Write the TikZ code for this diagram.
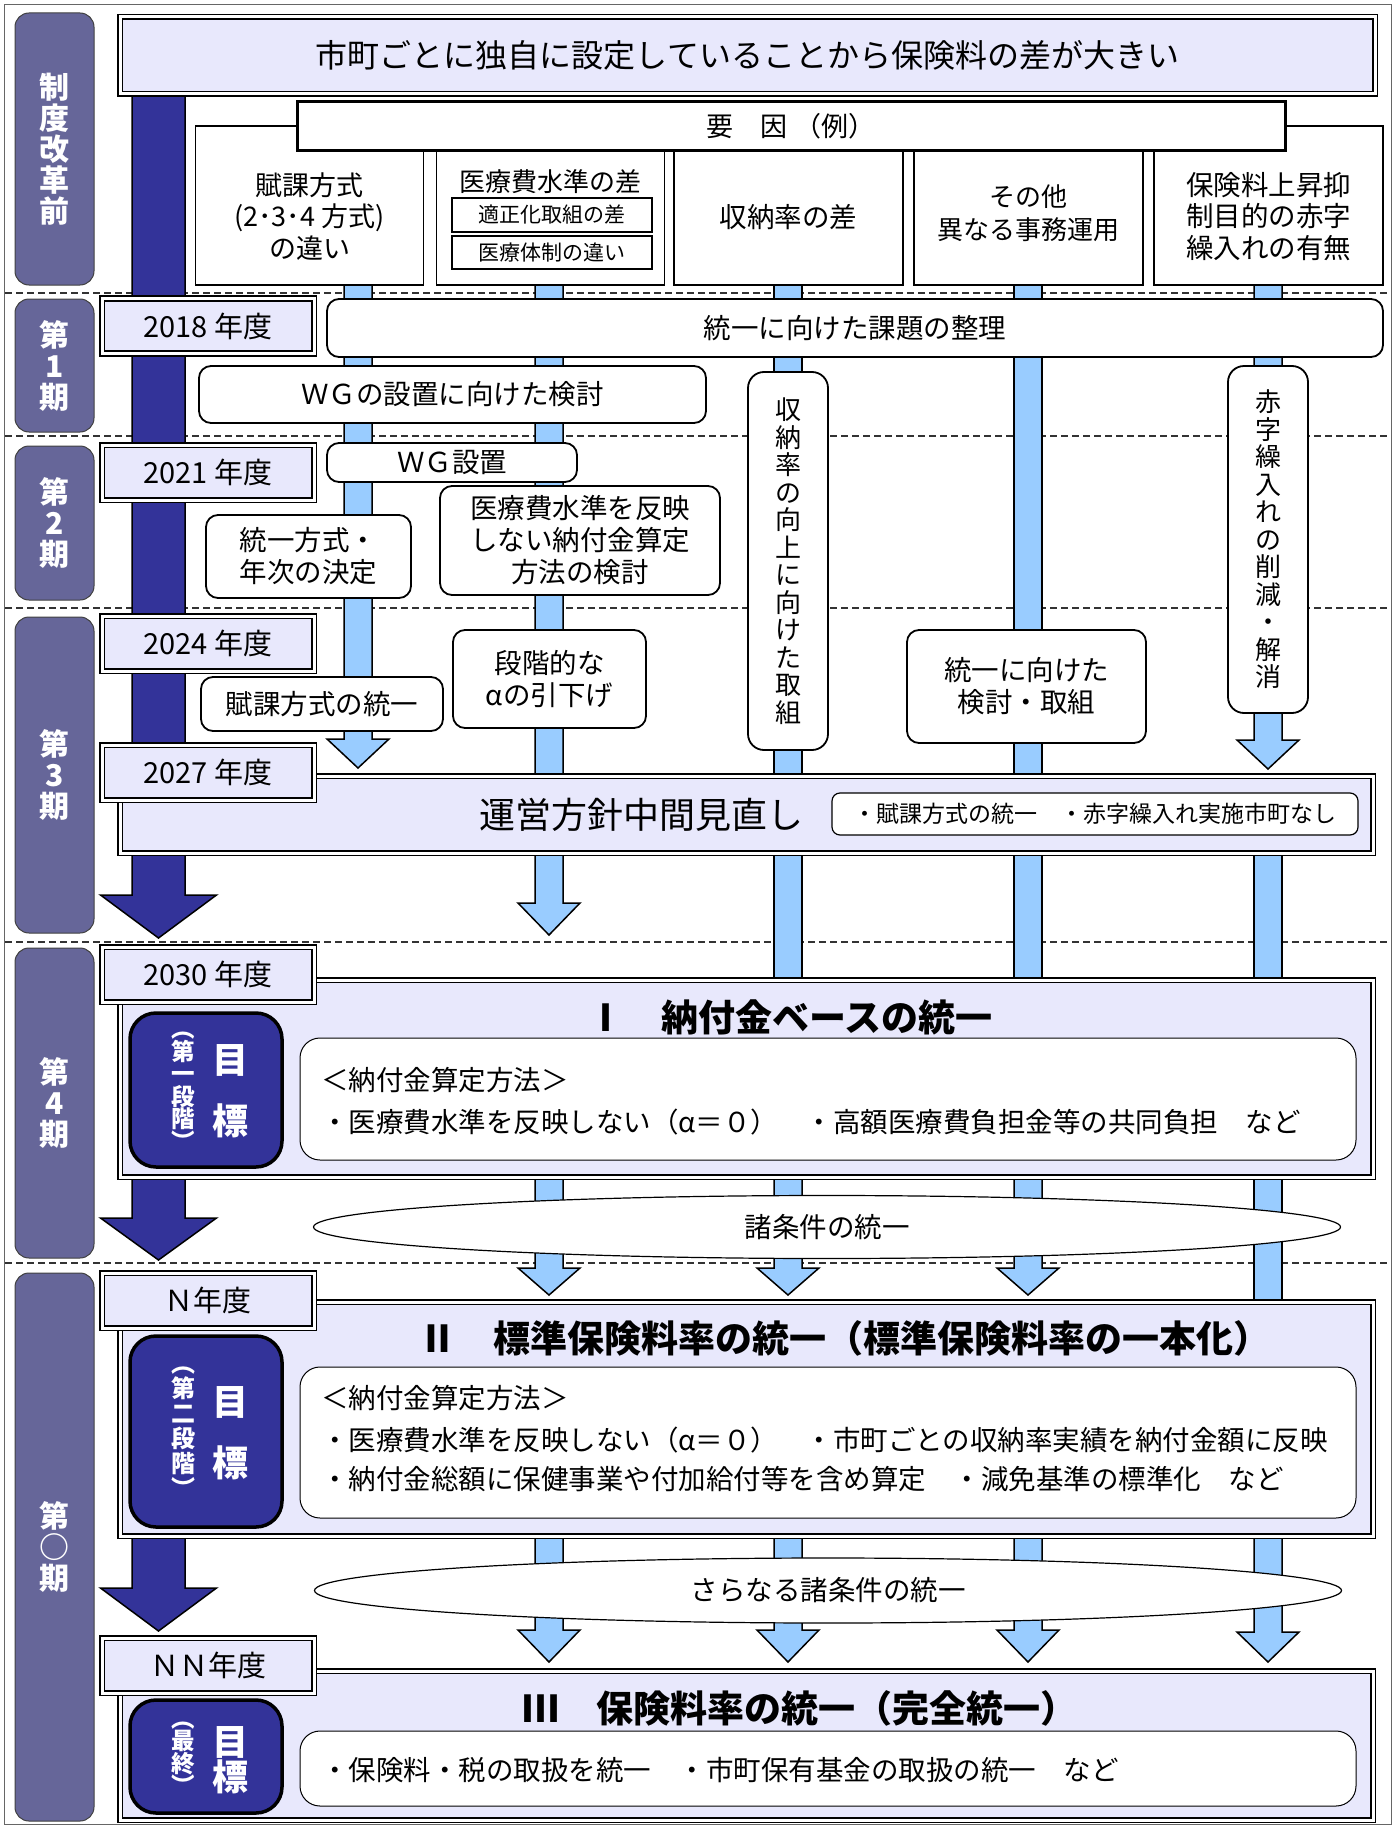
\documentclass[tikz,border=0pt]{standalone}
\usepackage{fontspec}
\setmainfont{Noto Sans CJK JP}
\usetikzlibrary{shapes.geometric}
\definecolor{lav}{RGB}{232,232,252}
\definecolor{navy}{RGB}{51,51,153}
\definecolor{phasec}{RGB}{102,102,153}
\definecolor{lblue}{RGB}{153,204,255}
\newcommand\fsz[2]{\fontsize{#1}{#2}\selectfont}
% style, x, half width, head half width, y start, y head, y tip
\newcommand\colarrow[7]{%
  \draw[#1] ({#2-#3},#5) -- ({#2-#3},#6) -- ({#2-#4},#6) -- (#2,#7) -- ({#2+#4},#6) -- ({#2+#3},#6) -- ({#2+#3},#5) -- cycle;}
\tikzset{
  bs0/.style={inner sep=0pt, outer sep=0pt},
  dbox/.style={bs0, draw, double=white, double distance=3pt, line width=1.6pt, fill=lav},
  ybox/.style={dbox, minimum width=212pt, minimum height=55pt, font=\fsz{29}{32}},
  fbox/.style={bs0, draw, line width=1.2pt, fill=white, minimum height=159pt, minimum width=228pt},
  sbox/.style={bs0, draw, line width=1.5pt, fill=white, minimum width=200pt, font=\fsz{21}{24}},
  rbox/.style={bs0, draw, line width=1.8pt, fill=white, rounded corners=12pt, align=center, font=\fsz{27.5}{32}},
  phbox/.style={bs0, draw=black!75, line width=1pt, fill=phasec, rounded corners=14pt, minimum width=79pt, text=white, font=\bfseries\fsz{30}{31}, align=center},
  goalm/.style={bs0, draw, line width=3.5pt, fill=navy, rounded corners=26pt, minimum width=152pt},
  cbox/.style={bs0, draw, line width=1pt, fill=white, rounded corners=20pt, minimum width=1056pt},
  lcol/.style={draw, line width=1.5pt, fill=lblue},
  dcol/.style={draw, line width=1.5pt, fill=navy},
  dashline/.style={dash pattern=on 7pt off 4pt, line width=1.1pt, black!80},
  txt/.style={bs0, font=\fsz{27.5}{32}, align=center},
  ctxt/.style={bs0, font=\fsz{27.5}{32}, anchor=west},
  gtitle/.style={bs0, font=\bfseries\fsz{37}{40}},
  mk/.style={bs0, text=white, font=\bfseries\fsz{36}{36}},
  mp/.style={bs0, text=white, align=center, font=\bfseries\fsz{23.5}{22.5}},
  ellbox/.style={bs0, draw, line width=1.2pt, fill=white, ellipse, minimum width=1027pt, font=\fsz{27.5}{30}},
  subbox/.style={bs0, draw, line width=1.2pt, fill=white, rounded corners=8pt, font=\fsz{23}{26}}
}
\begin{document}
\begin{tikzpicture}[x=1pt,y=-1pt]
\useasboundingbox (0,0) rectangle (1394,1827);
\draw[black!60, line width=1pt] (4,5) rectangle (1391,1824);
\foreach \yy in {293,436,608,942,1263} \draw[dashline] (5,\yy) -- (1390,\yy);

% dark main column
\colarrow{dcol}{158.5}{26.5}{58}{90}{895}{938}
\colarrow{dcol}{158.5}{26.5}{58}{1170}{1218}{1260}
\colarrow{dcol}{158.5}{26.5}{58}{1530}{1588}{1631}
% light columns
\colarrow{lcol}{358}{14}{31}{280}{739}{768}
\colarrow{lcol}{549}{14}{31}{280}{903}{935}
\colarrow{lcol}{549}{14}{31}{1170}{1268}{1295}
\colarrow{lcol}{549}{14}{31}{1530}{1630}{1662}
\draw[lcol] (774,280) rectangle (802,990);
\colarrow{lcol}{788}{14}{31}{1170}{1268}{1295}
\colarrow{lcol}{788}{14}{31}{1530}{1630}{1662}
\draw[lcol] (1014,280) rectangle (1042,990);
\colarrow{lcol}{1028}{14}{31}{1170}{1268}{1295}
\colarrow{lcol}{1028}{14}{31}{1530}{1630}{1662}
\colarrow{lcol}{1268}{14}{31}{280}{740}{769}
\draw[lcol] (1254,850) rectangle (1282,990);
\draw[lcol] (1254,1170) rectangle (1282,1310);
\colarrow{lcol}{1268}{14}{31}{1530}{1632}{1662}

% factor boxes
\node[fbox] (f1) at (309.5,205.5) {};
\node[txt, font=\fsz{27}{31.5}] (f1t) at (309.5,216.5) {賦課方式\\(2･3･4 方式)\\の違い};
\node[fbox] (f2) at (550.5,205.5) {};
\node[txt, font=\fsz{26}{30}] (f2t) at (550.5,182) {医療費水準の差};
\node[sbox, minimum height=34pt] (f2a) at (552,215) {適正化取組の差};
\node[sbox, minimum height=33pt] (f2b) at (552,252.5) {医療体制の違い};
\node[fbox, minimum width=229pt] (f3) at (788.5,205.5) {};
\node[txt, font=\fsz{27.5}{31.5}] (f3t) at (788.5,217) {収納率の差};
\node[fbox, minimum width=229pt] (f4) at (1028.5,205.5) {};
\node[txt, font=\fsz{26}{33}] (f4t) at (1028.5,213.5) {その他\\異なる事務運用};
\node[fbox, minimum width=229pt] (f5) at (1268.5,205.5) {};
\node[txt, font=\fsz{27.5}{31.5}] (f5t) at (1268.5,216.5) {保険料上昇抑\\制目的の赤字\\繰入れの有無};
\node[bs0, draw, line width=3pt, fill=white, minimum width=988pt, minimum height=49pt, font=\fsz{27}{30}] (yoin) at (791,126.5) {要　因 （例）};

% title
\node[dbox, minimum width=1255pt, minimum height=77pt, font=\fsz{32}{36}] (title) at (747.5,55.5) {市町ごとに独自に設定していることから保険料の差が大きい};

% rounded boxes
\node[rbox, minimum width=1056pt, minimum height=58pt] (kadai) at (855,328) {統一に向けた課題の整理};
\node[rbox, minimum width=507pt, minimum height=57pt] (wgk) at (452.5,394.5) {ＷＧの設置に向けた検討};
\node[rbox, minimum width=250pt, minimum height=39pt] (wgs) at (452,462.5) {ＷＧ設置};
\node[rbox, minimum width=205pt, minimum height=83pt] (toitsu) at (308.5,556.5) {統一方式・\\年次の決定};
\node[rbox, minimum width=280pt, minimum height=109pt] (iryo) at (580,540.5) {医療費水準を反映\\しない納付金算定\\方法の検討};
\node[rbox, minimum width=242pt, minimum height=54pt] (fuka) at (322,704) {賦課方式の統一};
\node[rbox, minimum width=193pt, minimum height=98pt] (dankai) at (549.5,679) {段階的な\\αの引下げ};
\node[rbox, minimum width=239pt, minimum height=113pt] (toitsu2) at (1026.5,686.5) {統一に向けた\\検討・取組};
\node[rbox, rounded corners=16pt, minimum width=80pt, minimum height=378pt, font=\fsz{26}{27.5}] (shuno) at (788,561) {収\\納\\率\\の\\向\\上\\に\\向\\け\\た\\取\\組};
\node[rbox, rounded corners=16pt, minimum width=80pt, minimum height=347pt, font=\fsz{26}{27.5}] (akaji) at (1268,539.5) {赤\\字\\繰\\入\\れ\\の\\削\\減\\・\\解\\消};

% interim review
\node[dbox, minimum width=1253pt, minimum height=77pt] (unei) at (746.5,814.5) {};
\node[txt, font=\fsz{36}{40}] (ueit) at (641,815) {運営方針中間見直し};
\node[subbox, minimum width=526pt, minimum height=42pt] (ueis) at (1095,814) {・賦課方式の統一　・赤字繰入れ実施市町なし};

% goal I
\node[dbox, minimum width=1253pt, minimum height=197pt] (g1) at (746.5,1078.5) {};
\node[gtitle] (g1t) at (790,1017) {Ⅰ　納付金ベースの統一};
\node[goalm, minimum height=154pt] (m1) at (206,1090) {};
\node[mk] (m1a) at (230,1060) {目};
\node[mk] (m1b) at (230,1121) {標};
\node[mp] (m1p) at (183,1091) {︵\\第\\一\\段\\階\\︶};
\node[cbox, minimum height=122pt] (c1) at (828,1099) {};
\node[ctxt] (c1a) at (321,1080) {＜納付金算定方法＞};
\node[ctxt] (c1b) at (321,1122) {・医療費水準を反映しない（α＝０）　・高額医療費負担金等の共同負担　など};

% goal II
\node[dbox, minimum width=1253pt, minimum height=234pt] (g2) at (746.5,1419) {};
\node[gtitle] (g2t) at (845,1338) {Ⅱ　標準保険料率の統一（標準保険料率の一本化）};
\node[goalm, minimum height=191pt] (m2) at (206,1431.5) {};
\node[mk] (m2a) at (230,1402) {目};
\node[mk] (m2b) at (230,1463) {標};
\node[mp, font=\bfseries\fsz{24}{25}] (m2p) at (183,1432) {︵\\第\\二\\段\\階\\︶};
\node[cbox, minimum height=151pt] (c2) at (828,1442.5) {};
\node[ctxt] (c2a) at (321,1398) {＜納付金算定方法＞};
\node[ctxt] (c2b) at (321,1440) {・医療費水準を反映しない（α＝０）　・市町ごとの収納率実績を納付金額に反映};
\node[ctxt] (c2c) at (321,1479) {・納付金総額に保健事業や付加給付等を含め算定　・減免基準の標準化　など};

% goal III
\node[dbox, minimum width=1253pt, minimum height=149pt] (g3) at (746.5,1745.5) {};
\node[gtitle] (g3t) at (800,1708) {Ⅲ　保険料率の統一（完全統一）};
\node[goalm, minimum height=113pt] (m3) at (206,1756.5) {};
\node[mk] (m3a) at (230,1742) {目};
\node[mk] (m3b) at (230,1777) {標};
\node[mp] (m3p) at (183,1758) {︵\\最\\終\\︶};
\node[cbox, minimum height=75pt] (c3) at (828,1768.5) {};
\node[ctxt] (c3a) at (321,1770) {・保険料・税の取扱を統一　・市町保有基金の取扱の統一　など};

% year boxes
\node[ybox] (y2018) at (208,326) {2018 年度};
\node[ybox] (y2021) at (208,472.5) {2021 年度};
\node[ybox] (y2024) at (208,643.5) {2024 年度};
\node[ybox] (y2027) at (208,772.5) {2027 年度};
\node[ybox] (y2030) at (208,974.5) {2030 年度};
\node[ybox] (yN) at (208,1300.5) {Ｎ年度};
\node[ybox] (yNN) at (208,1665.5) {ＮＮ年度};

% ellipses
\node[ellbox, minimum height=63pt] (e1) at (827,1227) {諸条件の統一};
\node[ellbox, minimum height=65pt] (e2) at (828,1590.5) {さらなる諸条件の統一};

% phase labels
\node[phbox, minimum height=272pt] (p0) at (54.5,149) {制\\度\\改\\革\\前};
\node[phbox, minimum height=133pt] (p1) at (54.5,365.5) {第\\1\\期};
\node[phbox, minimum height=154pt] (p2) at (54.5,523) {第\\2\\期};
\node[phbox, minimum height=316pt] (p3) at (54.5,775) {第\\3\\期};
\node[phbox, minimum height=310pt] (p4) at (54.5,1103) {第\\4\\期};
\node[phbox, minimum height=548pt] (p5) at (54.5,1547) {第\\○\\期};
\end{tikzpicture}
\end{document}
